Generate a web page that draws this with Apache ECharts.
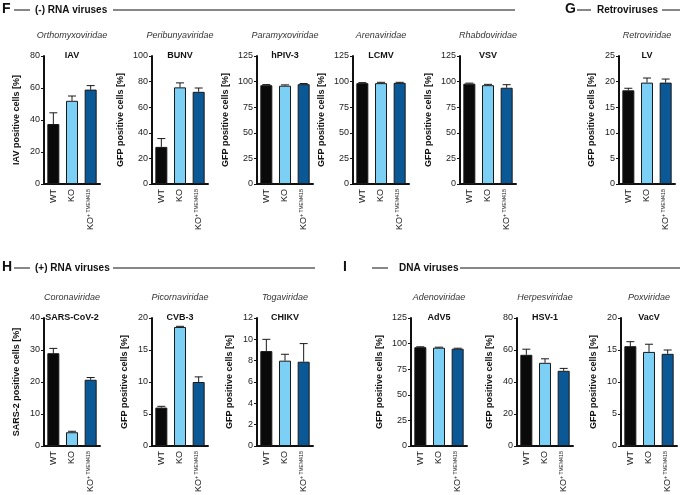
<!DOCTYPE html>
<html>
<head>
<meta charset="utf-8">
<script src="https://cdn.jsdelivr.net/npm/echarts@6/dist/echarts.min.js"></script>
<style>html,body{margin:0;background:#fff}#main{width:680px;height:495px}</style>
</head>
<body>
<div id="main"></div>
<script>
// groups and colours
var groups = ['WT', 'KO', 'KO+'];
var groupColors = ['#0a0a0a', '#7dd0f5', '#0a5896'];

// mean and SD per virus, order WT / KO / KO+TMEM41B
var iavMean = [37.5, 52, 59],    iavErr = [7, 3, 2.5];
var bunvMean = [29, 75.5, 72],   bunvErr = [6.5, 3.5, 3];
var hpivMean = [96.5, 96, 97.5], hpivErr = [0.6, 0.8, 0.6];
var lcmvMean = [98.5, 98.5, 98.8], lcmvErr = [0.5, 0.8, 0.5];
var vsvMean = [98, 96.5, 94],    vsvErr = [0.5, 0.8, 3];
var lvMean = [18.3, 19.8, 19.8], lvErr = [0.4, 0.9, 0.7];
var sarsMean = [29, 4.3, 20.7],  sarsErr = [1.5, 0.3, 0.7];
var cvbMean = [6, 18.6, 10],     cvbErr = [0.2, 0.1, 0.8];
var chikvMean = [8.9, 8, 7.9],   chikvErr = [1.1, 0.6, 1.7];
var advMean = [96.5, 96, 95],    advErr = [0.4, 0.5, 0.5];
var hsvMean = [57, 52, 47],      hsvErr = [3.5, 2.5, 1.5];
var vacvMean = [15.6, 14.7, 14.4], vacvErr = [0.7, 1.2, 0.6];

var panels = [
  {family: 'Orthomyxoviridae', virus: 'IAV', yName: 'IAV positive cells [%]', max: 80, step: 20, mean: iavMean, err: iavErr},
  {family: 'Peribunyaviridae', virus: 'BUNV', yName: 'GFP positive cells [%]', max: 100, step: 20, mean: bunvMean, err: bunvErr},
  {family: 'Paramyxoviridae', virus: 'hPIV-3', yName: 'GFP positive cells [%]', max: 125, step: 25, mean: hpivMean, err: hpivErr},
  {family: 'Arenaviridae', virus: 'LCMV', yName: 'GFP positive cells [%]', max: 125, step: 25, mean: lcmvMean, err: lcmvErr},
  {family: 'Rhabdoviridae', virus: 'VSV', yName: 'GFP positive cells [%]', max: 125, step: 25, mean: vsvMean, err: vsvErr},
  {family: 'Retroviridae', virus: 'LV', yName: 'GFP positive cells [%]', max: 25, step: 5, mean: lvMean, err: lvErr},
  {family: 'Coronaviridae', virus: 'SARS-CoV-2', yName: 'SARS-2 positive cells [%]', max: 40, step: 10, mean: sarsMean, err: sarsErr},
  {family: 'Picornaviridae', virus: 'CVB-3', yName: 'GFP positive cells [%]', max: 20, step: 5, mean: cvbMean, err: cvbErr},
  {family: 'Togaviridae', virus: 'CHIKV', yName: 'GFP positive cells [%]', max: 12, step: 2, mean: chikvMean, err: chikvErr},
  {family: 'Adenoviridae', virus: 'AdV5', yName: 'GFP positive cells [%]', max: 125, step: 25, mean: advMean, err: advErr},
  {family: 'Herpesviridae', virus: 'HSV-1', yName: 'GFP positive cells [%]', max: 80, step: 20, mean: hsvMean, err: hsvErr},
  {family: 'Poxviridae', virus: 'VacV', yName: 'GFP positive cells [%]', max: 20, step: 5, mean: vacvMean, err: vacvErr}
];

// grid placement (axis origin left, plot top)
var layout = [
  [44, 56], [152, 56], [257, 56], [353, 56], [460, 56], [619, 56],
  [44, 318], [152, 318], [257, 318], [411, 318], [517, 318], [621, 318]
];
var plotW = 56, plotH = 128;
var font = 'Liberation Sans, Arial, sans-serif';

var myChart = echarts.init(document.getElementById('main'));

function renderErr(params, api) {
  var x = api.value(0), m = api.value(1), e = api.value(2);
  var p0 = api.coord([x, m]);
  var p1 = api.coord([x, m + e]);
  var hw = 4;
  var st = {stroke: '#1a1a1a', lineWidth: 1};
  return {type: 'group', children: [
    {type: 'line', shape: {x1: p0[0], y1: p0[1], x2: p1[0], y2: p1[1]}, style: st},
    {type: 'line', shape: {x1: p1[0] - hw, y1: p1[1], x2: p1[0] + hw, y2: p1[1]}, style: st}
  ]};
}

var grid = [], xAxis = [], yAxis = [], series = [], graphic = [];

panels.forEach(function (p, i) {
  var L = layout[i];
  grid.push({left: L[0], top: L[1], width: plotW, height: plotH});
  xAxis.push({
    type: 'category', gridIndex: i, data: groups,
    axisLine: {lineStyle: {color: '#111', width: 2}},
    axisTick: {alignWithLabel: true, length: 3, lineStyle: {color: '#111', width: 1}},
    axisLabel: {
      rotate: 90, margin: 5, interval: 0, color: '#222', fontSize: 9, fontFamily: font,
      formatter: function (v) { return v === 'KO+' ? '{k|KO}{s|+ TMEM41B}' : v; },
      rich: {k: {fontSize: 9, fontFamily: font, color: '#222'},
             s: {fontSize: 5, fontFamily: font, color: '#222', verticalAlign: 'top', padding: [0, 0, 5, 0]}}
    }
  });
  var digits = String(p.max).length;
  yAxis.push({
    type: 'value', gridIndex: i, min: 0, max: p.max, interval: p.step,
    name: p.yName, nameLocation: 'middle', nameGap: digits > 2 ? 27 : 23,
    nameTextStyle: {fontSize: 9, fontWeight: 'bold', fontFamily: font, color: '#111'},
    splitLine: {show: false},
    axisLine: {show: true, lineStyle: {color: '#111', width: 2}},
    axisTick: {show: true, length: 3, lineStyle: {color: '#111', width: 1}},
    axisLabel: {fontSize: 9, fontFamily: font, color: '#222', margin: 4}
  });
  series.push({
    type: 'bar', xAxisIndex: i, yAxisIndex: i, barWidth: 12,
    data: p.mean,
    itemStyle: {
      color: function (prm) { return groupColors[prm.dataIndex]; },
      borderColor: '#1a1a1a', borderWidth: 1
    },
    silent: true
  });
  series.push({
    type: 'custom', xAxisIndex: i, yAxisIndex: i, renderItem: renderErr, z: 3,
    data: p.mean.map(function (m, k) { return [k, m, p.err[k]]; }),
    silent: true
  });
  var cx = L[0] + plotW / 2;
  graphic.push({type: 'text', x: cx, y: L[1] - 21, style: {text: p.family, fontSize: 9, fontStyle: 'italic', fontFamily: font, fill: '#333', align: 'center', verticalAlign: 'middle'}});
  graphic.push({type: 'text', x: cx, y: L[1], style: {text: p.virus, fontSize: 9, fontWeight: 'bold', fontFamily: font, fill: '#111', align: 'center', verticalAlign: 'middle'}});
});

// section headers
function header(letter, lx, label, tx, y, segs) {
  graphic.push({type: 'text', x: lx, y: y, style: {text: letter, fontSize: 14, fontWeight: 'bold', fontFamily: font, fill: '#111', verticalAlign: 'middle'}});
  graphic.push({type: 'text', x: tx, y: y + 1, style: {text: label, fontSize: 10, fontWeight: 'bold', fontFamily: font, fill: '#111', verticalAlign: 'middle'}});
  segs.forEach(function (s) {
    graphic.push({type: 'line', shape: {x1: s[0], y1: y + 1, x2: s[1], y2: y + 1}, style: {stroke: '#111', lineWidth: 1}});
  });
}
header('F', 2, '(-) RNA viruses', 35, 9, [[14, 30], [113, 515]]);
header('G', 565, 'Retroviruses', 597, 9, [[577, 591], [662, 680]]);
header('H', 2, '(+) RNA viruses', 35, 267, [[14, 30], [113, 315]]);
header('I', 343, 'DNA viruses', 399, 267, [[372, 388], [460, 680]]);

var option = {
  animation: false,
  grid: grid, xAxis: xAxis, yAxis: yAxis, series: series, graphic: graphic
};
myChart.setOption(option);
</script>
</body>
</html>
